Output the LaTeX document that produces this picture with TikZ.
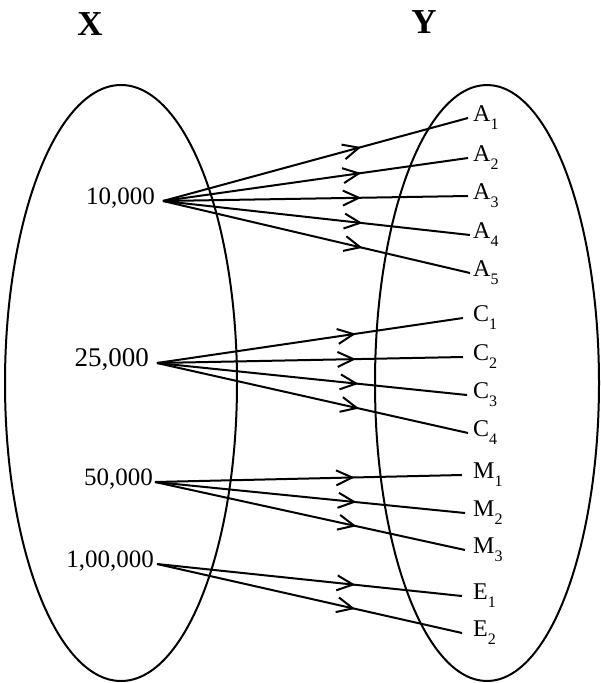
\documentclass[tikz,border=0pt]{standalone}
\usepackage{fontspec}
\setmainfont{Liberation Serif}
\usepackage{tikz}
\usetikzlibrary{arrows.meta,positioning,decorations.markings}

\newcommand{\lsub}[1]{\raisebox{-0.33em}{\fontsize{16}{16}\selectfont #1}}

\tikzset{
  setname/.style={font=\fontsize{35}{35}\selectfont\bfseries, inner sep=0pt},
  amt/.style={anchor=east, font=\fontsize{25}{25}\selectfont, text height=0.68em, text depth=0pt, inner ysep=0pt},
  lbl/.style={anchor=west, font=\fontsize{24}{24}\selectfont, text height=0.66em, text depth=0pt, inner ysep=0pt},
  flow/.style={line width=2pt, postaction={decorate},
    decoration={markings, mark=at position 0.65 with {\arrow{Straight Barb[length=16pt,width=15pt,line width=2pt]}}}}
}

\begin{document}
\begin{tikzpicture}[x=1pt, y=-1pt]
\useasboundingbox (0,0) rectangle (600,683);

% the two sets
\draw[line width=2pt] (121,383) ellipse [x radius=116pt, y radius=298pt];
\draw[line width=2pt] (487,383) ellipse [x radius=112pt, y radius=298pt];
\node[setname] (setx) at (90,24) {X};
\node[setname] (sety) at (424,22) {Y};

% incomes
\node[amt, inner xsep=8pt] (x10) at (163,201) {10,000};
\node[amt, inner xsep=8pt, font=\fontsize{27}{27}\selectfont] (x25) at (157,363) {25,000};
\node[amt, inner xsep=2pt] (x50) at (155,482) {50,000};
\node[amt, inner xsep=3pt] (x100) at (157,564) {1,00,000};

% persons
\foreach \n/\l/\s/\xe/\y in {a1/A/1/468/118, a2/A/2/468/158, a3/A/3/468/196, a4/A/4/470/235, a5/A/5/470/273,
    c1/C/1/463/318, c2/C/2/463/357, c3/C/3/467/395, c4/C/4/468/433,
    m1/M/1/462/475, m2/M/2/465/513, m3/M/3/465/550, e1/E/1/462/596, e2/E/2/462/633} {
  \pgfmathsetmacro{\g}{473-\xe}
  \node[lbl, inner xsep=\g pt] (\n) at (\xe,\y) {\l\lsub{\s}};
}

% mapping
\foreach \s/\t in {x10/a1, x10/a2, x10/a3, x10/a4, x10/a5, x25/c1, x25/c2, x25/c3, x25/c4,
    x50/m1, x50/m2, x50/m3, x100/e1, x100/e2} {
  \draw[flow] (\s.east) -- (\t.west);
}
\end{tikzpicture}
\end{document}
